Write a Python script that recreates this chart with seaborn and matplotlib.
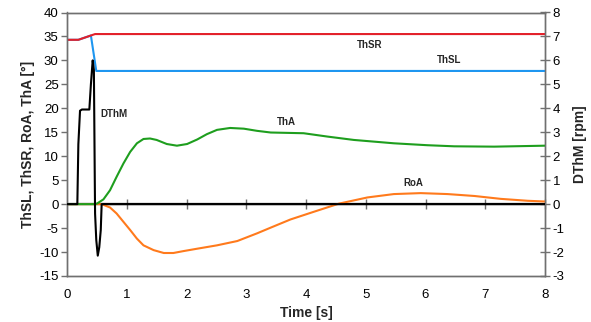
import numpy as np
import pandas as pd
import matplotlib
matplotlib.use("Agg")
import matplotlib.pyplot as plt
import seaborn as sns

# ---- data ----
thsr_t = [0, 0.19, 0.47, 8]
thsr_v = [34.3, 34.3, 35.5, 35.5]

thsl_t = [0, 0.19, 0.40, 0.49, 8]
thsl_v = [34.3, 34.3, 35.2, 27.8, 27.8]

tha_t = [0, 0.45, 0.50, 0.61, 0.72, 0.83, 0.945, 1.057, 1.17, 1.28, 1.39, 1.50,
         1.67, 1.84, 2.01, 2.18, 2.34, 2.51, 2.73, 2.96, 3.18, 3.41, 3.96, 4.36,
         4.80, 5.47, 6.03, 6.48, 7.15, 8.0]
tha_v = [0, 0, 0.1, 1.0, 2.9, 5.7, 8.5, 10.9, 12.7, 13.6, 13.7, 13.4,
         12.55, 12.2, 12.55, 13.5, 14.6, 15.5, 15.9, 15.75, 15.3, 14.95, 14.8, 14.1,
         13.4, 12.7, 12.3, 12.07, 12.0, 12.2]

roa_t = [0, 0.58, 0.72, 0.83, 0.945, 1.057, 1.17, 1.28, 1.45, 1.62, 1.78, 1.95,
         2.18, 2.51, 2.85, 3.18, 3.41, 3.74, 4.13, 4.55, 5.03, 5.47, 5.92, 6.37,
         6.82, 7.26, 7.71, 8.0]
roa_v = [0, 0, -0.7, -1.95, -3.7, -5.4, -7.2, -8.6, -9.6, -10.2, -10.2, -9.8,
         -9.3, -8.6, -7.7, -6.1, -4.9, -3.2, -1.6, 0.1, 1.4, 2.1, 2.3, 2.1,
         1.7, 1.1, 0.7, 0.55]

dthm_t = [0, 0.173, 0.19, 0.218, 0.25, 0.374, 0.40, 0.43, 0.45, 0.465, 0.47,
          0.49, 0.515, 0.54, 0.565, 0.58, 8]
dthm_v = [0, 0, 2.5, 3.9, 3.95, 3.95, 5.0, 6.0, 5.6, 1.0, -0.4,
          -1.5, -2.15, -1.8, -1.08, 0, 0]

x_ticks = [0, 1, 2, 3, 4, 5, 6, 7, 8]
y_ticks = [-15, -10, -5, 0, 5, 10, 15, 20, 25, 30, 35, 40]
y2_ticks = [-3, -2, -1, 0, 1, 2, 3, 4, 5, 6, 7, 8]

labels = {"ThSR": (5.07, 33.2), "ThSL": (6.4, 30.1), "ThA": (3.67, 17.2),
          "RoA": (5.8, 4.4), "DThM": (0.79, 18.9)}

# ---- style ----
sns.set_theme(style="white")
plt.rcParams["font.family"] = ["Liberation Sans", "DejaVu Sans"]

fig = plt.figure(figsize=(5.91, 3.22), dpi=100)
ax = fig.add_axes([67 / 591, 1 - 276 / 322, (545 - 67) / 591, (276 - 12.5) / 322])
ax2 = ax.twinx()

spine_c = "#707070"
lw = 1.5

# zero line
ax.axhline(0, color="black", lw=1.6, zorder=2)

sns.lineplot(x=thsl_t, y=thsl_v, ax=ax, color="#1e96f0", lw=lw, zorder=3)
sns.lineplot(x=thsr_t, y=thsr_v, ax=ax, color="#e3202a", lw=lw, zorder=3)
sns.lineplot(x=roa_t, y=roa_v, ax=ax, color="#ff7a1c", lw=lw, zorder=3)
sns.lineplot(x=tha_t, y=tha_v, ax=ax, color="#1e9e1e", lw=lw, zorder=3)
sns.lineplot(x=dthm_t, y=dthm_v, ax=ax2, color="black", lw=lw, zorder=3)

ax.set_xlim(0, 8)
ax.set_ylim(-15, 40)
ax2.set_ylim(-3, 8)
ax.set_xticks(x_ticks)
ax.set_yticks(y_ticks)
ax2.set_yticks(y2_ticks)
ax.set_xticklabels([str(v) for v in x_ticks])
ax.set_yticklabels([str(v) for v in y_ticks])
ax2.set_yticklabels([str(v) for v in y2_ticks])

for a in (ax, ax2):
    for s in a.spines.values():
        s.set_color(spine_c)
        s.set_linewidth(1.0)

ax.tick_params(axis="x", length=0, labelsize=9.5, pad=9, colors="black")
ax.tick_params(axis="y", direction="out", length=4, width=1, color=spine_c,
               labelsize=9.5, pad=2, labelcolor="black")
ax2.tick_params(axis="y", direction="inout", length=7, width=1, color=spine_c,
                labelsize=9.5, pad=2, labelcolor="black")

# ticks crossing the zero line
sec = ax.secondary_xaxis(15 / 55)
sec.set_xticks(x_ticks[1:])
sec.tick_params(axis="x", direction="inout", length=7, width=1, color=spine_c,
                labelbottom=False, labeltop=False)
sec.spines["bottom"].set_visible(False)

ax.set_xlabel("Time [s]", fontsize=10, fontweight="bold", labelpad=4)
ax.set_ylabel("ThSL, ThSR, RoA, ThA [°]", fontsize=10, fontweight="bold", labelpad=3)
ax2.set_ylabel("DThM [rpm]", fontsize=10, fontweight="bold", labelpad=6)

for name, (xx, yy) in labels.items():
    ax.text(xx, yy, name, fontsize=7, fontweight="bold", ha="center", va="center")

ax.grid(False)
ax2.grid(False)
fig.savefig("out.png", dpi=100)
